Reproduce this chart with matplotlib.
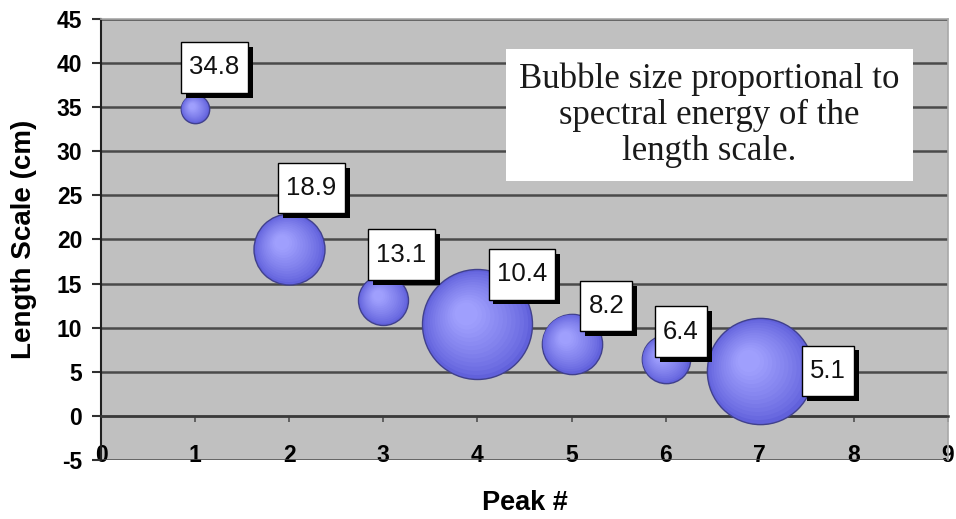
import numpy as np
import matplotlib
matplotlib.use("Agg")
import matplotlib.pyplot as plt
import matplotlib.patheffects as pe
from matplotlib.path import Path
from matplotlib.transforms import offset_copy

# ---- data ----
peaks = [1, 2, 3, 4, 5, 6, 7]
length_scale = [34.8, 18.9, 13.1, 10.4, 8.2, 6.4, 5.1]
energy = [0.2, 1.25, 0.62, 3.0, 0.9, 0.58, 2.8]   # relative spectral energy (bubble area)
label_text = ["34.8", "18.9", "13.1", "10.4", "8.2", "6.4", "5.1"]
xticks = [0, 1, 2, 3, 4, 5, 6, 7, 8, 9]
yticks = [-5, 0, 5, 10, 15, 20, 25, 30, 35, 40, 45]

# label offsets (points, relative to bubble centre)
label_offsets = [(14, 30), (16, 44), (13, 33), (32, 36), (25, 27), (11, 20), (49, 0)]

fig = plt.figure(figsize=(9.56, 5.19), dpi=100)
ax = fig.add_axes([0.1057, 0.1137, 0.8859, 0.8497])
ax.set_facecolor("#c0c0c0")
ax.set_xlim(0, 9)
ax.set_ylim(-5, 45)

# grid
ax.set_yticks(yticks)
ax.set_xticks(xticks)
ax.yaxis.grid(True, color="#4a4a4a", lw=1.8, zorder=0)
ax.set_axisbelow(True)

for s in ["top", "right"]:
    ax.spines[s].set_color("#a8a8a8")
    ax.spines[s].set_linewidth(1.2)
ax.spines["left"].set_color("#202020")
ax.spines["left"].set_linewidth(1.5)
ax.spines["bottom"].set_position(("data", 0))
ax.spines["bottom"].set_color("#3a3a3a")
ax.spines["bottom"].set_linewidth(1.8)

tick_font = dict(family="Liberation Sans", weight="bold", size=16.5)
ax.tick_params(axis="y", direction="out", length=6.5, width=1.5, color="#303030", pad=7)
ax.tick_params(axis="x", direction="out", length=4, width=1.2, color="#505050", pad=16)
ax.set_yticklabels([str(v) for v in yticks], **tick_font)
ax.set_xticklabels([str(v) for v in xticks], **tick_font)

ax.set_xlabel("Peak #", family="Liberation Sans", weight="bold", size=19.5, labelpad=17)
ax.set_ylabel("Length Scale (cm)", family="Liberation Sans", weight="bold", size=20, labelpad=14)

# bubbles with shading
def lerp(c1, c2, t):
    return tuple(a + (b - a) * t for a, b in zip(c1, c2))

edge = (0.25, 0.25, 0.55)
dark = (0.38, 0.38, 0.86)
light = (0.64, 0.64, 1.0)
for x, y, e in zip(peaks, length_scale, energy):
    r_px = 55 * np.sqrt(e / 3.0)
    r_pt = r_px * 0.72
    ax.scatter([x], [y], s=(2 * r_pt) ** 2, color=dark, edgecolor=edge, lw=1.0, zorder=3)
    n = 14
    for k in range(1, n):
        t = k / n
        rr = r_pt * (1 - t * 0.85)
        tr = offset_copy(ax.transData, fig=fig, x=-r_pt * 0.22 * t, y=r_pt * 0.2 * t, units="points")
        ax.scatter([x], [y], s=(2 * rr) ** 2, color=lerp(dark, light, t ** 0.8),
                   edgecolor="none", lw=0, zorder=3, transform=tr)


def tall_box(x0, y0, width, height, mutation_size):
    px = 0.32 * mutation_size
    py = 0.52 * mutation_size
    x0, y0 = x0 - px, y0 - py
    x1, y1 = x0 + width + 2 * px, y0 + height + 2 * py
    return Path([(x0, y0), (x1, y0), (x1, y1), (x0, y1), (x0, y0)], closed=True)


# data labels
for x, y, txt, (dx, dy) in zip(peaks, length_scale, label_text, label_offsets):
    a = ax.annotate(txt, xy=(x, y), xytext=(dx, dy), textcoords="offset points",
                    ha="center", va="center", family="Liberation Sans", size=18.5, color="#111111",
                    zorder=6,
                    bbox=dict(boxstyle=tall_box, fc="white", ec="black", lw=1.0))
    a.get_bbox_patch().set_path_effects([
        pe.SimplePatchShadow(offset=(3.5, -3.5), shadow_rgbFace="black", alpha=1.0),
        pe.Normal()])

# note box
ax.text(0.718, 0.782, "Bubble size proportional to\nspectral energy of the\nlength scale.",
        transform=ax.transAxes, ha="center", va="center", family="Liberation Serif",
        size=25, linespacing=1.12, color="#1a1a1a", zorder=6,
        bbox=dict(boxstyle="square,pad=0.38", fc="white", ec="none"))

fig.savefig("out.png", dpi=100)
